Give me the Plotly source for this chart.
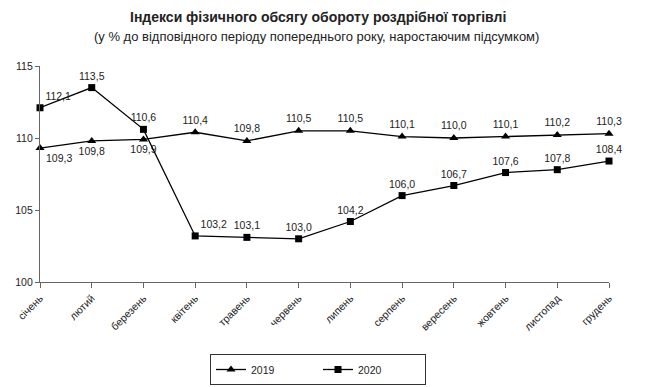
import plotly.graph_objects as go

months = ["січень", "лютий", "березень", "квітень", "травень", "червень",
          "липень", "серпень", "вересень", "жовтень", "листопад", "грудень"]
y2019 = [109.3, 109.8, 109.9, 110.4, 109.8, 110.5, 110.5, 110.1, 110.0, 110.1, 110.2, 110.3]
y2020 = [112.1, 113.5, 110.6, 103.2, 103.1, 103.0, 104.2, 106.0, 106.7, 107.6, 107.8, 108.4]
y_ticks = [100, 105, 110, 115]

pos2019 = ["bottom right", "bottom center", "bottom center"] + ["top center"] * 9
pos2020 = ["top right", "top center", "top center", "top right"] + ["top center"] * 8

def fmt(v):
    return f"{v:.1f}".replace(".", ",")

lab_font = dict(family="Liberation Sans, Arial, sans-serif", size=10.5, color="#222")

fig = go.Figure()
fig.add_trace(go.Scatter(
    x=list(range(len(months))), y=y2019, name="2019", mode="lines+markers+text",
    line=dict(color="black", width=1.3),
    marker=dict(symbol="triangle-up", size=8, color="black"),
    text=[fmt(v) for v in y2019], textposition=pos2019, textfont=lab_font,
    cliponaxis=False,
))
fig.add_trace(go.Scatter(
    x=list(range(len(months))), y=y2020, name="2020", mode="lines+markers+text",
    line=dict(color="black", width=1.3),
    marker=dict(symbol="square", size=7, color="black"),
    text=[fmt(v) for v in y2020], textposition=pos2020, textfont=lab_font,
    cliponaxis=False,
))

# page body has an 8px default margin; compensate so the plot lands at 40..609 x 66..282
fig.update_layout(
    width=644, height=379,
    margin=dict(l=32, r=43, t=58, b=105, autoexpand=False),
    paper_bgcolor="white", plot_bgcolor="white",
    font=dict(family="Liberation Sans, Arial, sans-serif", size=11, color="#222"),
    showlegend=True,
    legend=dict(orientation="h", x=(318 - 40) / 569, xanchor="center",
                y=(282 - 354) / 216, yanchor="top",
                bordercolor="#333", borderwidth=1, font=dict(size=10.5, color="#222"),
                itemwidth=30, entrywidth=62, tracegroupgap=0),
    annotations=[
        dict(text="<b>Індекси фізичного обсягу обороту роздрібної торгівлі</b>",
             xref="paper", yref="paper", x=(318 - 40) / 569, y=(282 - 17) / 216,
             xanchor="center", yanchor="middle", showarrow=False,
             font=dict(size=14, color="#222")),
        dict(text="(у % до відповідного періоду попереднього року, наростаючим підсумком)",
             xref="paper", yref="paper", x=(316 - 40) / 569, y=(282 - 36) / 216,
             xanchor="center", yanchor="middle", showarrow=False,
             font=dict(size=13, color="#222")),
    ],
)
fig.update_xaxes(
    range=[0, 11], tickmode="array", tickvals=list(range(len(months))), ticktext=months,
    tickangle=-45, ticks="outside", ticklen=5, tickcolor="#666",
    showline=True, linecolor="#666", linewidth=1.3, showgrid=False, zeroline=False,
    tickfont=dict(size=10.5), automargin=False,
)
fig.update_yaxes(
    range=[100, 115], tickvals=y_ticks, ticks="outside", ticklen=4, tickcolor="#666",
    showline=True, linecolor="#666", linewidth=1.3, showgrid=False, zeroline=False,
    tickfont=dict(size=10.5), automargin=False,
)

fig.write_html("out.html")
